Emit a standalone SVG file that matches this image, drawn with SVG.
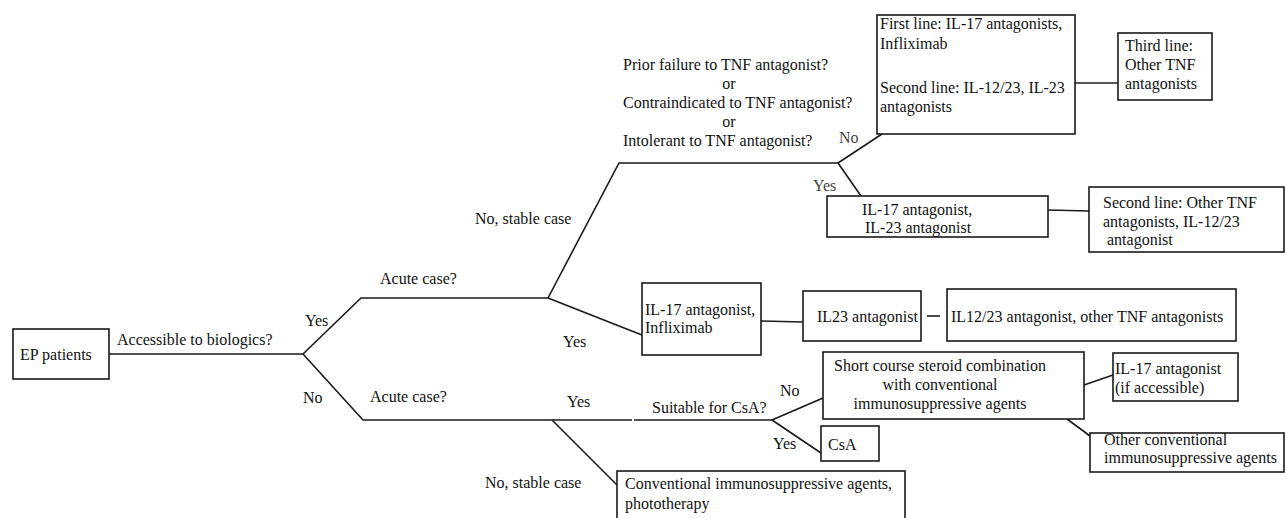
<svg xmlns="http://www.w3.org/2000/svg" width="1286" height="518" viewBox="0 0 1286 518">
<style>
  .box{fill:#fff;stroke:#1a1a1a;stroke-width:1.6}
  .ln{fill:none;stroke:#1a1a1a;stroke-width:1.6}
  text{font-family:"Liberation Serif","Times New Roman",serif;font-size:16px;fill:#111}
  .gray{fill:#444}
  .mid{text-anchor:middle}
</style>
<rect width="1286" height="518" fill="#fff"/>
<g id="connectors">
  <polyline class="ln" points="109,354 303,354"/>
  <polyline class="ln" points="303,354 361,298 548,298"/>
  <polyline class="ln" points="303,354 363,420 632,420"/>
  <polyline class="ln" points="634,420 772,420"/>
  <polyline class="ln" points="548,298 619,163 838,163"/>
  <line class="ln" x1="548" y1="298" x2="647" y2="337"/>
  <line class="ln" x1="838" y1="163" x2="882" y2="134"/>
  <line class="ln" x1="838" y1="163" x2="861" y2="196"/>
  <line class="ln" x1="1075" y1="83" x2="1118" y2="83"/>
  <line class="ln" x1="1048" y1="210" x2="1089" y2="211"/>
  <line class="ln" x1="759" y1="321" x2="803" y2="322"/>
  <line class="ln" x1="927" y1="316" x2="940" y2="316"/>
  <line class="ln" x1="552" y1="420" x2="617" y2="485"/>
  <line class="ln" x1="772" y1="420" x2="823" y2="398"/>
  <line class="ln" x1="772" y1="420" x2="821" y2="453"/>
  <line class="ln" x1="1084" y1="385" x2="1113" y2="375"/>
  <line class="ln" x1="1067" y1="419" x2="1090" y2="436"/>
  <g id="connector-labels">
    <text x="117" y="345">Accessible to biologics?</text>
    <text x="305" y="326">Yes</text>
    <text x="303" y="403">No</text>
    <text x="380" y="284">Acute case?</text>
    <text x="370" y="402">Acute case?</text>
    <text x="475" y="224">No, stable case</text>
    <text x="563" y="347">Yes</text>
    <text x="623" y="70">Prior failure to TNF antagonist?</text>
    <text class="mid" x="729" y="89">or</text>
    <text x="623" y="108">Contraindicated to TNF antagonist?</text>
    <text class="mid" x="729" y="127">or</text>
    <text x="623" y="146">Intolerant to TNF antagonist?</text>
    <text class="gray" x="839" y="143">No</text>
    <text class="gray" x="813" y="191">Yes</text>
    <text x="567" y="407">Yes</text>
    <text x="652" y="413">Suitable for CsA?</text>
    <text x="485" y="488">No, stable case</text>
    <text x="780" y="396">No</text>
    <text x="773" y="449">Yes</text>
  </g>
</g>
<g id="ep-patients">
  <rect class="box" x="13" y="329" width="96" height="50"/>
  <text x="20" y="360">EP patients</text>
</g>
<g id="first-second-line">
  <rect class="box" x="877" y="15" width="198" height="119"/>
  <text x="880" y="29">First line: IL-17 antagonists,</text>
  <text x="880" y="49">Infliximab</text>
  <text x="880" y="93">Second line: IL-12/23, IL-23</text>
  <text x="880" y="112">antagonists</text>
</g>
<g id="third-line">
  <rect class="box" x="1118" y="33" width="94" height="67"/>
  <text x="1125" y="51">Third line:</text>
  <text x="1125" y="70">Other TNF</text>
  <text x="1125" y="89">antagonists</text>
</g>
<g id="il17-il23">
  <rect class="box" x="827" y="196" width="221" height="41"/>
  <text x="862" y="215">IL-17 antagonist,</text>
  <text x="865" y="233">IL-23 antagonist</text>
</g>
<g id="second-line-other-tnf">
  <rect class="box" x="1089" y="187" width="195" height="65"/>
  <text x="1103" y="208">Second line: Other TNF</text>
  <text x="1103" y="227">antagonists, IL-12/23</text>
  <text x="1107" y="245">antagonist</text>
</g>
<g id="il17-infliximab">
  <rect class="box" x="642" y="283" width="119" height="72"/>
  <text x="645" y="315">IL-17 antagonist,</text>
  <text x="645" y="333">Infliximab</text>
</g>
<g id="il23">
  <rect class="box" x="803" y="291" width="118" height="50"/>
  <text x="817" y="322">IL23 antagonist</text>
</g>
<g id="il12-23">
  <rect class="box" x="947" y="289" width="289" height="52"/>
  <text x="951" y="322">IL12/23 antagonist, other TNF antagonists</text>
</g>
<g id="short-course">
  <rect class="box" x="823" y="352" width="261" height="67"/>
  <text class="mid" x="940" y="371">Short course steroid combination</text>
  <text class="mid" x="940" y="390">with conventional</text>
  <text class="mid" x="940" y="409">immunosuppressive agents</text>
</g>
<g id="il17-if-accessible">
  <rect class="box" x="1113" y="353" width="125" height="48"/>
  <text x="1115" y="374">IL-17 antagonist</text>
  <text x="1115" y="393">(if accessible)</text>
</g>
<g id="csa">
  <rect class="box" x="821" y="426" width="58" height="35"/>
  <text x="828" y="450">CsA</text>
</g>
<g id="other-conventional">
  <rect class="box" x="1090" y="433" width="194" height="39"/>
  <text x="1104" y="445">Other conventional</text>
  <text x="1104" y="463">immunosuppressive agents</text>
</g>
<g id="conventional-phototherapy">
  <rect class="box" x="617" y="471" width="288" height="60"/>
  <text x="625" y="489">Conventional immunosuppressive agents,</text>
  <text x="625" y="509">phototherapy</text>
</g>
</svg>
